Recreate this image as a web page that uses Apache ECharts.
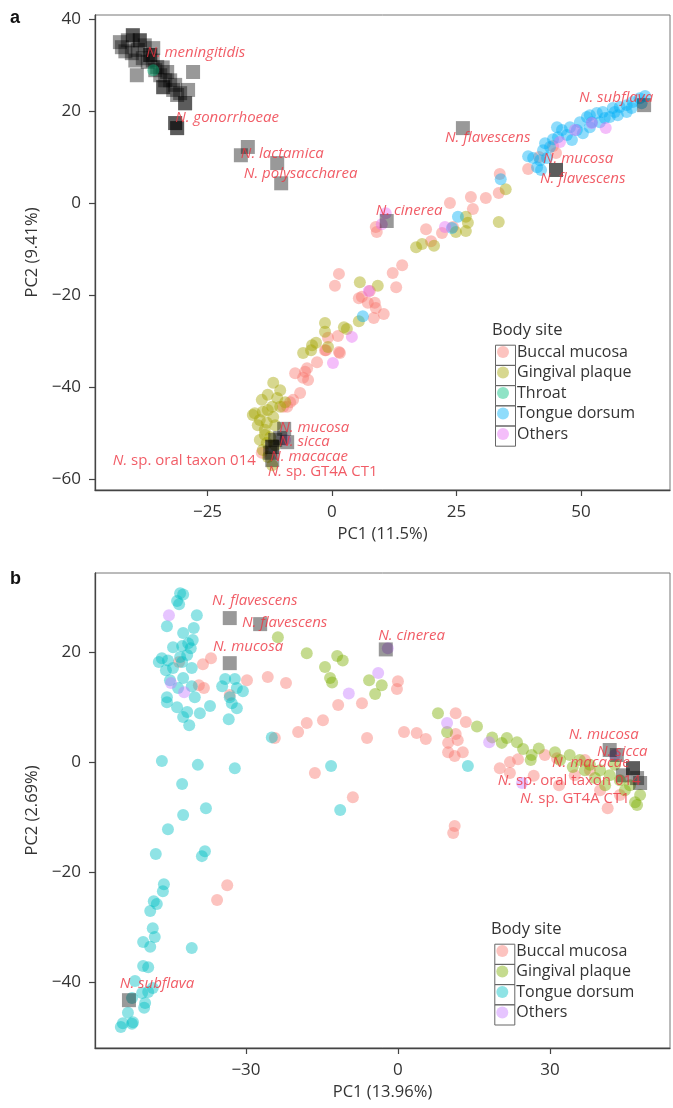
<!DOCTYPE html>
<html><head><meta charset="utf-8">
<script src="https://cdn.jsdelivr.net/npm/echarts@6/dist/echarts.min.js"></script>
<style>html,body{margin:0;padding:0;background:#fff}#c{width:673px;height:1108px}</style>
</head><body><div id="c"></div>
<script>
// ---------- Panel a data (PC1 11.5%, PC2 9.41%) ----------
const aBuccal = [[33.7,6.3],[27.9,1.3],[30.9,1.1],[33.5,2.2],[23.7,0],[28.3,-1.3],[18.9,-5.7],[22.1,-6.5],[19.9,-8.3],[8.8,-5.2],[9.0,-6.3],[14.1,-13.5],[12.2,-15.2],[12.9,-18.3],[1.4,-15.4],[0.6,-18.0],[6.0,-20.4],[5.4,-20.7],[7.2,-21.7],[8.6,-21.7],[8.8,-22.8],[10.4,-24.1],[8.4,-25.0],[7.6,-19.1],[1.2,-28.9],[-0.8,-29.3],[1.4,-32.4],[-1.2,-32.0],[39.4,7.4],[41.6,10.0],[45.0,10.9],[44.4,12.4],[24.3,-5.2],[-7.4,-37.0],[-5.4,-36.7],[-4.8,-38.5],[-6.4,-41.3],[-7.8,-42.8],[-9.0,-44.3],[1.6,-32.6],[-5.0,-35.9],[-3.0,-34.6],[-5.8,-38.0],[-8.4,-43.3],[-9.8,-44.3],[-1.4,-32.0],[-14.1,-54.3]];
const aGingival = [[34.9,3.0],[33.5,-4.1],[26.9,-3.0],[27.3,-4.3],[26.9,-6.1],[24.9,-6.3],[16.9,-9.6],[18.1,-8.9],[20.5,-9.3],[5.6,-17.2],[9.2,-18.0],[5.4,-25.7],[-1.4,-26.1],[-1.4,-28.0],[2.4,-27.0],[3.0,-27.4],[-3.2,-30.4],[-4.2,-32.0],[-5.8,-32.6],[-0.8,-31.3],[-4.0,-30.9],[-11.8,-39.1],[-10.4,-40.7],[-12.9,-41.7],[-14.1,-42.8],[-11.0,-42.4],[-12.0,-44.3],[-15.5,-45.7],[-13.9,-45.4],[-14.5,-47.2],[-13.1,-47.8],[-11.8,-46.5],[-13.5,-49.3],[-12.4,-50.9],[-14.5,-51.5],[-13.1,-52.2],[-13.9,-53.7],[-12.9,-55.2],[-12.0,-57.0],[-10.4,-44.3],[-9.4,-43.3],[-11.4,-48.3],[-12.9,-45.0],[-14.9,-48.3],[-13.5,-50.4],[-11.4,-52.6],[-15.9,-46.1]];
const aThroat = [[-35.9,28.9]];
const aTongue = [[33.9,5.2],[25.3,-3.0],[24.1,-5.4],[6.2,-24.6],[39.4,10.2],[41.2,7.8],[42.4,11.5],[44.4,13.9],[46.2,15.9],[47.8,16.5],[49.8,17.6],[51.2,18.7],[53.2,19.6],[54.4,19.8],[56.4,20.7],[57.8,20.9],[59.2,21.3],[60.4,22.0],[61.8,22.8],[62.9,23.3],[43.8,12.2],[47.2,14.8],[49.2,15.9],[51.8,16.5],[53.8,17.6],[55.8,18.7],[57.4,19.1],[59.2,19.8],[50.4,15.2],[41.8,9.3],[43.2,9.8],[45.4,14.3],[52.2,17.6],[60.2,20.7],[62.2,21.7],[45.2,16.5],[40.4,9.8],[42.8,13.0],[48.2,13.7],[54.8,18.5],[56.8,19.8],[51.8,19.1],[42.0,7.2]];
const aOthers = [[10.8,-2.2],[10.0,-4.6],[22.7,-5.2],[7.4,-19.1],[4.0,-29.1],[48.8,15.9],[52.2,17.4],[55.0,16.3],[45.8,13.3],[0.2,-34.8],[-9.4,-51.5]];
const aRefs = [[-40.0,36.5],[-42.2,33.9],[-38.6,35.4],[-35.9,33.7],[-40.2,32.6],[-38.0,31.5],[-35.1,29.6],[-33.1,28.5],[-32.5,26.7],[-33.9,25.2],[-31.9,24.6],[-31.1,23.5],[-39.2,27.8],[-41.0,35.4],[-37.6,34.3],[-36.5,32.2],[-34.5,27.8],[-33.5,26.7],[-31.5,25.7],[-30.5,23.9],[-42.6,35.0],[-39.0,33.3],[-37.0,30.7],[-35.5,28.9],[-40.0,36.5],[-38.6,35.4],[-36.5,32.2],[-33.9,25.2],[-41.5,33.0],[-39.5,31.0],[-36.0,31.0],[-34.0,29.5],[-27.9,28.5],[-28.9,24.6],[-29.5,21.7],[-29.5,21.7],[-31.1,16.3],[-31.5,17.4],[-31.1,16.3],[-31.5,17.4],[-16.9,12.2],[-18.3,10.4],[-11.0,8.7],[-10.2,4.3],[26.3,16.3],[11.0,-3.9],[45.0,7.2],[45.0,7.2],[62.7,21.3],[-9.6,-49.1],[-9.0,-52.0],[-10.4,-51.1],[-12.0,-53.0],[-12.4,-54.3],[-11.4,-51.5],[-12.0,-55.9],[-12.0,-53.0]];
const aLabels = [[-37.3,32.8,'N. meningitidis'],[-31.5,18.5,'N. gonorrhoeae'],[-18.3,10.7,'N. lactamica'],[-17.7,6.3,'N. polysaccharea'],[22.7,14.3,'N. flavescens'],[49.6,23.0,'N. subflava'],[42.4,9.6,'N. mucosa'],[41.8,5.4,'N. flavescens'],[8.8,-1.7,'N. cinerea'],[-10.6,-48.9,'N. mucosa'],[-10.6,-52.0,'N. sicca'],[-12.4,-55.2,'N. macacae'],[-12.9,-58.5,'N. sp. GT4A CT1']];
const aLabelsLeft = [[-15.3,-56.1,'N. sp. oral taxon 014']];
const aXTicks = [-25,0,25,50];
const aYTicks = [-60,-40,-20,0,20,40];

// ---------- Panel b data (PC1 13.96%, PC2 2.69%) ----------
const bBuccal = [[-38.5,17.8],[-36.9,18.9],[-39.3,14.0],[-38.3,13.5],[-33.2,12.2],[-29.8,14.9],[-25.7,15.5],[-22.1,14.4],[-24.3,4.4],[-19.7,5.5],[-18.0,7.1],[-14.8,7.6],[-11.8,10.4],[-16.4,-2.0],[-43.2,18.2],[0,14.7],[-0.2,13.3],[-7.1,10.7],[1.2,5.5],[3.7,5.3],[5.5,4.2],[-6.1,4.4],[11.4,8.9],[13.4,7.3],[11.4,5.1],[9.9,3.5],[11.8,4.0],[9.9,1.8],[11.2,1.1],[12.8,1.8],[20.1,-1.1],[22.1,0],[23.7,0.5],[29.0,1.3],[31.4,0.7],[22.1,-2.0],[26.8,-2.5],[31.8,-4.2],[-8.9,-6.4],[11.2,-11.6],[10.9,-12.9],[41.4,-8.4],[-33.7,-22.4],[-35.7,-25.1],[34.9,-2.4],[37.9,-1.5],[39.9,-5.1],[43.8,-6.0],[36.9,0.4]];
const bGingival = [[-23.7,22.7],[-18.0,19.8],[-12.0,19.3],[-14.4,17.3],[-13.4,15.3],[-13.0,14.5],[-10.9,18.5],[-5.7,14.9],[-3.2,14.0],[-4.5,12.4],[7.9,8.9],[9.7,5.5],[15.6,6.5],[18.6,4.5],[21.5,4.4],[20.5,3.5],[23.5,3.6],[24.7,2.4],[26.4,1.3],[27.8,2.5],[26.2,0.4],[34.5,-0.9],[32.0,0.4],[35.9,0.4],[37.9,-0.5],[39.9,-1.5],[41.8,-2.4],[43.8,-3.3],[45.8,-4.2],[46.8,-7.3],[47.2,-7.8],[44.8,-5.1],[42.8,-0.5],[40.9,-4.2],[38.9,-2.9],[36.9,-1.5],[47.8,-6.0],[33.9,1.3],[31.0,1.8]];
const bTongue = [[-43.0,30.7],[-42.4,30.5],[-43.6,29.3],[-43.2,28.7],[-39.7,26.7],[-45.6,24.7],[-42.4,23.5],[-40.3,24.4],[-44.4,20.9],[-42.6,21.1],[-41.4,21.6],[-40.5,22.2],[-40.9,20.7],[-46.6,18.9],[-47.2,18.2],[-45.4,18.5],[-43.0,19.1],[-41.6,19.5],[-40.7,17.1],[-45.8,16.7],[-44.4,17.1],[-42.6,18.2],[-45.0,14.9],[-42.4,15.3],[-43.4,13.5],[-40.7,13.8],[-40.1,11.8],[-45.6,10.9],[-45.6,11.8],[-43.6,10.0],[-41.6,9.1],[-42.4,8.2],[-41.2,6.7],[-39.1,8.9],[-37.1,10.2],[-34.7,13.8],[-34.1,15.1],[-32.2,15.1],[-31.8,13.5],[-30.6,12.9],[-33.2,11.8],[-32.8,10.7],[-31.8,9.8],[-33.4,7.8],[-24.9,4.5],[-46.6,0.2],[-39.5,-0.5],[-32.2,-1.1],[-42.6,-4.0],[-37.9,-8.4],[-42.4,-9.6],[-45.4,-12.2],[-13.2,-0.7],[-11.4,-8.7],[13.8,-0.7],[-47.8,-16.7],[-38.1,-16.2],[-38.7,-17.1],[-46.2,-22.2],[-46.4,-23.5],[-48.2,-25.3],[-47.6,-25.8],[-48.9,-27.1],[-48.4,-30.2],[-48.0,-31.8],[-50.3,-32.7],[-48.9,-33.6],[-40.7,-33.8],[-50.3,-37.1],[-49.3,-37.3],[-51.9,-39.8],[-50.5,-42.0],[-49.3,-41.8],[-48.4,-41.1],[-49.9,-43.8],[-50.1,-44.7],[-52.5,-42.9],[-53.3,-45.6],[-52.3,-47.3],[-54.3,-47.5],[-54.7,-48.2],[-52.5,-47.6]];
const bOthers = [[-45.2,26.7],[-44.8,14.4],[-42.2,12.7],[-3.9,16.2],[-9.7,12.5],[9.7,7.1],[18.0,3.6],[24.5,-3.8],[-2.0,20.7],[42.8,1.3]];
const bRefs = [[-33.2,26.2],[-27.2,25.1],[-33.2,18.0],[-2.4,20.5],[-53.1,-43.3],[41.8,2.2],[43.2,1.3],[46.4,-1.1],[47.2,-2.9],[44.4,-2.4],[47.8,-3.8],[46.4,-1.1]];
const bLabels = [[-36.7,29.3,'N. flavescens'],[-30.8,25.3,'N. flavescens'],[-36.5,20.9,'N. mucosa'],[-3.9,22.9,'N. cinerea'],[33.7,4.9,'N. mucosa'],[39.3,1.8,'N. sicca'],[30.4,-0.2,'N. macacae'],[19.7,-3.3,'N. sp. oral taxon 014'],[24.1,-6.7,'N. sp. GT4A CT1'],[-54.9,-40.4,'N. subflava']];
const bXTicks = [-30,0,30];
const bYTicks = [-40,-20,0,20];

const sitesA = ['Buccal mucosa','Gingival plaque','Throat','Tongue dorsum','Others'];
const sitesB = ['Buccal mucosa','Gingival plaque','Tongue dorsum','Others'];

// ---------- styling ----------
const FONT = '"Open Sans", "Noto Sans", sans-serif';
const ALPHA = 0.55;
const colA = {'Buccal mucosa':'#F8766D','Gingival plaque':'#A3A500','Throat':'#00BF7D','Tongue dorsum':'#00B0F6','Others':'#E76BF3'};
const colB = {'Buccal mucosa':'#F8766D','Gingival plaque':'#7CAE00','Tongue dorsum':'#00BFC4','Others':'#C77CFF'};
const RED = '#EE3340';
function rgba(hex,a){const n=parseInt(hex.slice(1),16);return `rgba(${n>>16&255},${n>>8&255},${n&255},${a})`;}
const minus = v => String(v).replace('-', '\u2212');

function axisCommon(ticks){
  return {
    nameTextStyle:{fontFamily:FONT,fontSize:16.5,color:'#333'},
    splitLine:{show:false},
    axisLine:{onZero:false,lineStyle:{color:'#444',width:1.3}},
    axisTick:{customValues:ticks,length:6,lineStyle:{color:'#444',width:1.2}},
    axisLabel:{customValues:ticks,formatter:minus,margin:14,fontFamily:FONT,fontSize:17,color:'#333'}};
}
function xAx(grid,min,max,ticks,name){
  return Object.assign({type:'value',gridIndex:grid,min:min,max:max,name:name,nameLocation:'middle',nameGap:36},axisCommon(ticks));
}
function yAx(grid,min,max,ticks,name){
  return Object.assign({type:'value',gridIndex:grid,min:min,max:max,name:name,nameLocation:'middle',nameGap:54},axisCommon(ticks));
}
function pts(name,data,grid,color,z){
  return {type:'scatter',name:name,xAxisIndex:grid,yAxisIndex:grid,data:data,symbol:'circle',symbolSize:12,
    itemStyle:{color:rgba(color,ALPHA)},z:z||3,silent:true,emphasis:{disabled:true}};
}
function refs(data,grid){
  return {type:'scatter',name:'ref',xAxisIndex:grid,yAxisIndex:grid,data:data,symbol:'rect',symbolSize:14,
    itemStyle:{color:'rgba(0,0,0,0.5)'},z:4,silent:true,emphasis:{disabled:true}};
}
function fmtLabel(p){
  const t = p.data[2];
  if (t.startsWith('N. sp.')) return '{i|N.}{n|' + t.slice(2) + '}';
  return '{i|' + t + '}';
}
const rich = {i:{fontFamily:FONT,fontStyle:'italic',fontSize:15,color:RED},n:{fontFamily:FONT,fontStyle:'normal',fontSize:15,color:RED}};
function labels(data,grid,pos){
  return {type:'scatter',name:'labels',xAxisIndex:grid,yAxisIndex:grid,data:data,symbolSize:0,z:10,silent:true,
    emphasis:{disabled:true},
    label:{show:true,position:pos,distance:0,formatter:fmtLabel,rich:rich}};
}

const series = [
  pts('Buccal mucosa',aBuccal,0,colA['Buccal mucosa']),
  pts('Gingival plaque',aGingival,0,colA['Gingival plaque']),
  pts('Tongue dorsum',aTongue,0,colA['Tongue dorsum']),
  pts('Others',aOthers,0,colA['Others']),
  refs(aRefs,0),
  pts('Throat',aThroat,0,colA['Throat'],5),
  labels(aLabels,0,'right'),
  labels(aLabelsLeft,0,'left'),
  pts('Buccal mucosa',bBuccal,1,colB['Buccal mucosa']),
  pts('Gingival plaque',bGingival,1,colB['Gingival plaque']),
  pts('Tongue dorsum',bTongue,1,colB['Tongue dorsum']),
  pts('Others',bOthers,1,colB['Others']),
  refs(bRefs,1),
  labels(bLabels,1,'right')
];

function legendFor(sites,cols,left,top){
  return {orient:'vertical',left:left,top:top,padding:0,itemWidth:12,itemHeight:12,itemGap:4.5,icon:'circle',
    selectedMode:false,
    data:sites.map(s=>({name:s,icon:'circle',itemStyle:{color:rgba(cols[s],ALPHA)}})),
    textStyle:{fontFamily:FONT,fontSize:16,color:'#333',padding:[0,0,0,3]}};
}
function keyBoxes(x,y0,n){
  const out=[];
  for(let i=0;i<n;i++) out.push({type:'rect',left:x,top:y0+i*20.2,shape:{width:20,height:20.2},style:{fill:'none',stroke:'#666',lineWidth:1}});
  return out;
}

const option = {
  animation:false,
  backgroundColor:'#fff',
  grid:[
    {left:95,top:15,width:575,height:475,show:true,borderColor:'#777',borderWidth:1},
    {left:95,top:573,width:575,height:475,show:true,borderColor:'#777',borderWidth:1}
  ],
  xAxis:[xAx(0,-47.6,67.9,aXTicks,'PC1 (11.5%)'), xAx(1,-59.8,53.7,bXTicks,'PC1 (13.96%)')],
  yAxis:[yAx(0,-62.4,40.9,aYTicks,'PC2 (9.41%)'), yAx(1,-52,34.4,bYTicks,'PC2 (2.69%)')],
  legend:[legendFor(sitesA,colA,497,344), legendFor(sitesB,colB,496.3,943)],
  graphic:[
    {type:'text',left:10,top:9,style:{text:'a',fontFamily:'"Liberation Sans", Arial, sans-serif',fontWeight:'bold',fontSize:18,fill:'#111'}},
    {type:'text',left:10,top:570,style:{text:'b',fontFamily:'"Liberation Sans", Arial, sans-serif',fontWeight:'bold',fontSize:18,fill:'#111'}},
    {type:'text',left:492,top:322,style:{text:'Body site',fontFamily:FONT,fontSize:16.5,fill:'#333'}},
    {type:'text',left:491,top:921,style:{text:'Body site',fontFamily:FONT,fontSize:16.5,fill:'#333'}},
    ...keyBoxes(493,342.7,5),
    ...keyBoxes(492.3,941.7,4)
  ],
  series:series
};
const chart = echarts.init(document.getElementById('c'), null, {renderer:'canvas'});
chart.setOption(option);
</script></body></html>
